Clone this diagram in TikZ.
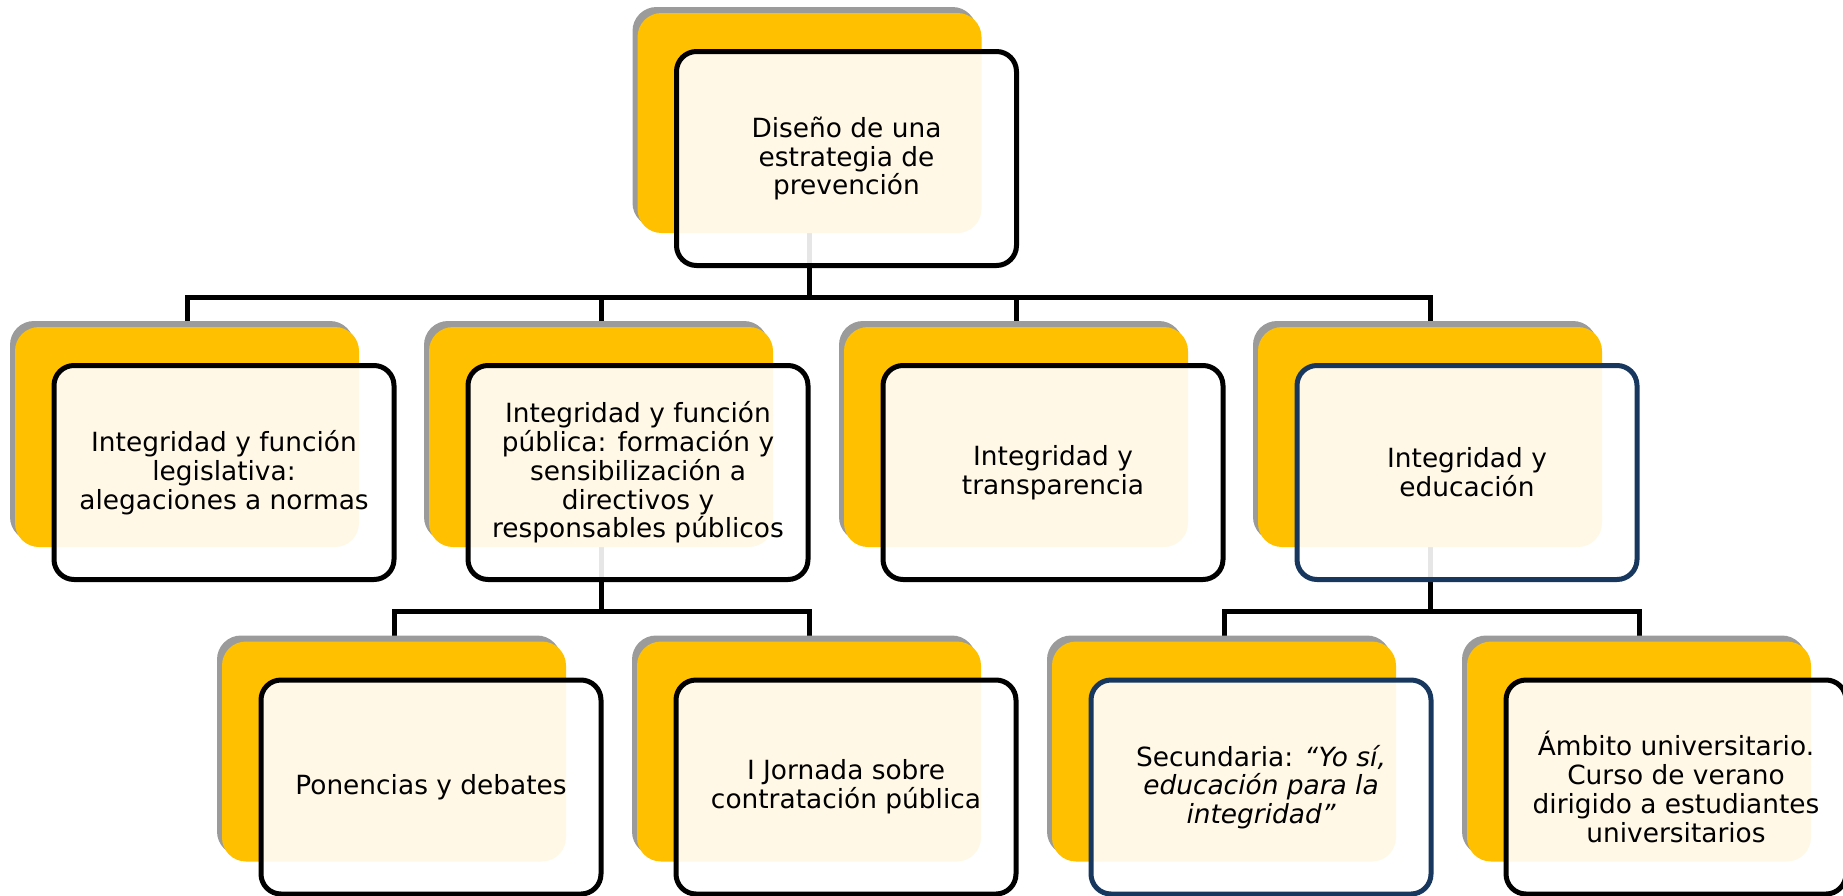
\documentclass[tikz,border=0pt]{standalone}
\usepackage{fontspec}
\setmainfont{DejaVu Sans}
\usetikzlibrary{shadows,backgrounds}
\definecolor{ambar}{HTML}{FFC000}
\definecolor{sombra}{HTML}{9B9B9B}
\definecolor{marino}{HTML}{17375E}

\begin{document}
\begin{tikzpicture}[x=0.5pt,y=-0.5pt,
    fondo/.style={rectangle,rounded corners=12pt,fill=ambar,minimum width=172pt,minimum height=110pt,
      drop shadow={shadow xshift=-2.5pt,shadow yshift=3pt,fill=sombra,opacity=1}},
    caja/.style={rectangle,rounded corners=10pt,draw=black,line width=2.5pt,fill=white,
      fill opacity=0.9,text opacity=1,minimum width=170pt,minimum height=107pt,
      align=center,font=\fontsize{13.2}{14.4}\selectfont},
    azul/.style={draw=marino},
    enlace/.style={draw=black,line width=2.5pt}]
  \useasboundingbox (0,0) rectangle (1843,895);
  % nivel 1
  \node[fondo] (fdis) at (809.5,123) {};
  \node[caja] (dis) at ([shift={(37,35.5)}]fdis.center) {Diseño de una\\estrategia de\\prevención};
  % nivel 2
  \node[fondo] (fleg) at (187,437) {};
  \node[caja] (leg) at ([shift={(37,35.5)}]fleg.center) {Integridad y función\\legislativa:\\alegaciones a normas};
  \node[fondo] (fpub) at (601,437) {};
  \node[caja] (pub) at ([shift={(37,35.5)}]fpub.center) {Integridad y función\\pública: formación y\\sensibilización a\\directivos y\\responsables públicos};
  \node[fondo] (ftra) at (1016,437) {};
  \node[caja] (tra) at ([shift={(37,35.5)}]ftra.center) {Integridad y\\transparencia};
  \node[fondo] (fedu) at (1430,437) {};
  \node[caja,azul] (edu) at ([shift={(37,35.5)}]fedu.center) {Integridad y\\educación};
  % nivel 3
  \node[fondo] (fpon) at (394,751.5) {};
  \node[caja] (pon) at ([shift={(37,35.5)}]fpon.center) {Ponencias y debates};
  \node[fondo] (fjor) at (809,751.5) {};
  \node[caja] (jor) at ([shift={(37,35.5)}]fjor.center) {I Jornada sobre\\contratación pública};
  \node[fondo] (fsec) at (1224,751.5) {};
  \node[caja,azul] (sec) at ([shift={(37,35.5)}]fsec.center) {Secundaria: {\itshape “Yo sí,}\\{\itshape educación para la}\\{\itshape integridad”}};
  \node[fondo] (funi) at (1639,751.5) {};
  \node[caja] (uni) at ([shift={(37,35.5)}]funi.center) {Ámbito universitario.\\Curso de verano\\dirigido a estudiantes\\universitarios};
  % conectores
  \begin{pgfonlayer}{background}
    \coordinate (bus1) at (809.5,297);
    \coordinate (bus2) at (601,611);
    \coordinate (bus3) at (1430,611);
    \foreach \hijo in {fleg,fpub,ftra,fedu}
      \draw[enlace] (fdis.center) -- (bus1) -| (\hijo.center);
    \foreach \hijo in {fpon,fjor}
      \draw[enlace] (fpub.center) -- (bus2) -| (\hijo.center);
    \foreach \hijo in {fsec,funi}
      \draw[enlace] (fedu.center) -- (bus3) -| (\hijo.center);
  \end{pgfonlayer}
\end{tikzpicture}
\end{document}
